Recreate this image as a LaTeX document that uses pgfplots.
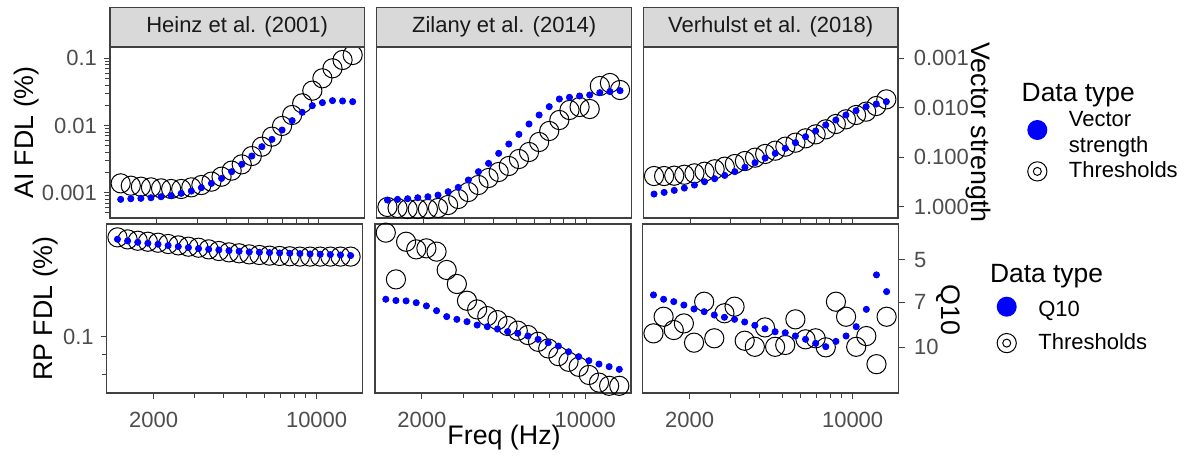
\documentclass[border=0pt]{standalone}
\usepackage{fontspec}
\setmainfont{Liberation Sans}
\usepackage{pgfplots}
\usepackage{pgfplotstable}
\pgfplotsset{compat=1.18}
\definecolor{vsblue}{RGB}{0,0,255}
\definecolor{bordc}{RGB}{64,64,64}
\definecolor{tickc}{RGB}{77,77,77}
\definecolor{stripc}{RGB}{217,217,217}

% f = frequency (Hz), thr = threshold (AI FDL %), vs = vector strength
\pgfplotstableread{
f thr vs
1400 0.001377 0.711
1547.4 0.001271 0.690
1710.3 0.001228 0.679
1890.3 0.00120 0.659
2089.2 0.00116 0.629
2309.1 0.001135 0.600
2552.1 0.001135 0.538
2820.7 0.00120 0.483
3117.6 0.00130 0.413
3445.7 0.00146 0.338
3808.3 0.00173 0.268
4209.1 0.00213 0.196
4652.1 0.00264 0.139
5141.7 0.00351 0.0946
5682.8 0.00484 0.0612
6280.9 0.00682 0.0435
6942.0 0.00984 0.0282
7672.6 0.01433 0.0182
8480.1 0.0214 0.01236
9372.6 0.0330 0.00907
10359.0 0.0504 0.00788
11449.2 0.0710 0.00718
12654.2 0.0944 0.00730
13986.0 0.112 0.00753
}\heinzTop
\pgfplotstableread{
f thr vs
1400 0.000613 0.734
1547.4 0.000592 0.711
1710.3 0.000572 0.690
1890.3 0.000572 0.659
2089.2 0.000572 0.629
2309.1 0.000592 0.582
2552.1 0.000656 0.498
2820.7 0.000806 0.407
3117.6 0.001024 0.289
3445.7 0.001302 0.196
3808.3 0.001655 0.133
4209.1 0.002032 0.0835
4652.1 0.002496 0.0541
5141.7 0.003171 0.0345
5682.8 0.004032 0.0213
6280.9 0.005683 0.0140
6942.0 0.008285 0.00950
7672.6 0.01207 0.00665
8480.1 0.01701 0.00615
9372.6 0.01885 0.00578
10359.0 0.01759 0.00552
11449.2 0.03871 0.00495
12654.2 0.04289 0.00472
13986.0 0.03374 0.00451
}\zilanyTop
\pgfplotstableread{
f thr vs
1400 0.00177 0.555
1547.4 0.00177 0.514
1710.3 0.00179 0.468
1890.3 0.00185 0.420
2089.2 0.00194 0.365
2309.1 0.00205 0.313
2552.1 0.00223 0.272
2820.7 0.00244 0.233
3117.6 0.00267 0.196
3445.7 0.00296 0.160
3808.3 0.00332 0.129
4209.1 0.00377 0.104
4652.1 0.00422 0.0835
5141.7 0.00484 0.0662
5682.8 0.00555 0.0508
6280.9 0.00644 0.0385
6942.0 0.00738 0.0295
7672.6 0.00877 0.0223
8480.1 0.01053 0.0177
9372.6 0.01236 0.0140
10359.0 0.01433 0.01145
11449.2 0.01607 0.00950
12654.2 0.0195 0.00839
13986.0 0.0245 0.00753
}\verhulstTop
% f = frequency (Hz), thr = threshold (RP FDL %), q = Q10
\pgfplotstableread{
f thr q
1400 0.1787 4.244
1547.4 0.1766 4.30
1710.3 0.1752 4.346
1890.3 0.1742 4.38
2089.2 0.1732 4.414
2309.1 0.1719 4.46
2552.1 0.1705 4.497
2820.7 0.1692 4.532
3117.6 0.1682 4.57
3445.7 0.1666 4.594
3808.3 0.1650 4.619
4209.1 0.1637 4.643
4652.1 0.1628 4.668
5141.7 0.1618 4.693
5682.8 0.1612 4.705
6280.9 0.1606 4.718
6942.0 0.1603 4.730
7672.6 0.1600 4.743
8480.1 0.1597 4.755
9372.6 0.1597 4.768
10359.0 0.1597 4.78
11449.2 0.1597 4.793
12654.2 0.1597 4.806
13986.0 0.1597 4.83
}\heinzBot
\pgfplotstableread{
f thr q
1400 0.1837 6.83
1547.4 0.1398 6.90
1710.3 0.1742 6.92
1890.3 0.1666 7.02
2089.2 0.1676 7.20
2309.1 0.1644 7.48
2552.1 0.1477 7.84
2820.7 0.1361 8.01
3117.6 0.1234 8.16
3445.7 0.1173 8.38
3808.3 0.1128 8.49
4209.1 0.1102 8.65
4652.1 0.1065 8.83
5141.7 0.1036 8.95
5682.8 0.1010 9.14
6280.9 0.0971 9.39
6942.0 0.0934 9.64
7672.6 0.0893 9.90
8480.1 0.0864 10.36
9372.6 0.0839 10.77
10359.0 0.0800 11.12
11449.2 0.0765 11.42
12654.2 0.0751 11.66
13986.0 0.0751 11.91
}\zilanyBot
\pgfplotstableread{
f thr q
1400 0.1020 6.60
1547.4 0.1124 6.83
1710.3 0.1040 6.96
1890.3 0.1081 7.15
2089.2 0.0966 7.38
2309.1 0.1227 7.54
2552.1 0.0991 7.74
2820.7 0.1147 7.88
3117.6 0.1192 8.01
3445.7 0.0977 8.18
3808.3 0.0943 8.40
4209.1 0.1056 8.63
4652.1 0.0943 8.84
5141.7 0.0953 8.91
5682.8 0.1107 9.14
6280.9 0.0985 9.38
6942.0 0.0991 9.69
7672.6 0.0940 9.95
8480.1 0.1227 9.54
9372.6 0.1124 9.14
10359.0 0.0943 8.49
11449.2 0.1004 7.40
12654.2 0.0852 5.63
13986.0 0.1124 6.43
}\verhulstBot

\begin{document}
\begin{tikzpicture}
\useasboundingbox (0,0) rectangle (598.5pt,227.5pt);

% ---------------- top row ----------------
\begin{axis}[scale only axis, xmode=log, ymode=log, xmin=1259, xmax=15700,
  ymin=4.2e-4, ymax=0.1473, width=127.15pt, height=85.5pt, axis on top,
  axis line style={bordc, line width=0.7pt},
  tick align=outside, major tick length=3pt, minor tick length=2.6pt,
  tick style={bordc, line width=0.5pt},
  xtick={2000,10000}, minor xtick={3000,4000,5000,6000,7000,8000,9000}, xticklabels={},
  xtick pos=bottom, ytick pos=left,
  tick label style={font=\fontsize{11}{13}\selectfont, text=tickc},
  ytick={0.001,0.01,0.1}, yticklabels={0.001,0.01,0.1},
  minor ytick={0.0005,0.0006,0.0007,0.0008,0.0009,0.002,0.003,0.004,0.005,0.006,0.007,0.008,0.009,0.02,0.03,0.04,0.05,0.06,0.07,0.08,0.09},
  title={Heinz et al. (2001)},
  title style={at={(axis description cs:0.5,1)}, anchor=south, yshift=-6pt,
    fill=stripc, draw=bordc, line width=0.7pt, minimum width=127.15pt, minimum height=19.85pt,
    inner sep=0pt, outer sep=0pt, font=\fontsize{11}{13}\selectfont, text=black!90},
  ylabel={AI FDL (\%)},
  ylabel style={at={(axis description cs:-0.33,0.5)}, anchor=center, font=\fontsize{13.4}{15}\selectfont},
  at={(55pt,118.5pt)}, anchor=south west]
\addplot[only marks, black, mark=o, mark size=4.8pt, mark options={line width=0.5pt}] table[x=f, y=thr] {\heinzTop};
\end{axis}
\begin{axis}[scale only axis, xmode=log, ymode=log, xmin=1259, xmax=15700,
  ymin=5.91e-4, ymax=1.692, y dir=reverse, width=127.15pt, height=85.5pt, hide axis,
  at={(55pt,118.5pt)}, anchor=south west]
\addplot[color=vsblue, only marks, mark=*, mark size=1.55pt] table[x=f, y=vs] {\heinzTop};
\end{axis}

\begin{axis}[scale only axis, xmode=log, ymode=log, xmin=1259, xmax=15700,
  ymin=4.2e-4, ymax=0.1473, width=127.5pt, height=85.5pt, axis on top,
  axis line style={bordc, line width=0.7pt},
  tick align=outside, major tick length=3pt, minor tick length=2.6pt,
  tick style={bordc, line width=0.5pt},
  xtick={2000,10000}, minor xtick={3000,4000,5000,6000,7000,8000,9000}, xticklabels={},
  xtick pos=bottom, ymajorticks=false, yminorticks=false,
  title={Zilany et al. (2014)},
  title style={at={(axis description cs:0.5,1)}, anchor=south, yshift=-6pt,
    fill=stripc, draw=bordc, line width=0.7pt, minimum width=127.5pt, minimum height=19.85pt,
    inner sep=0pt, outer sep=0pt, font=\fontsize{11}{13}\selectfont, text=black!90},
  at={(188.35pt,118.5pt)}, anchor=south west]
\addplot[only marks, black, mark=o, mark size=4.8pt, mark options={line width=0.5pt}] table[x=f, y=thr] {\zilanyTop};
\end{axis}
\begin{axis}[scale only axis, xmode=log, ymode=log, xmin=1259, xmax=15700,
  ymin=5.91e-4, ymax=1.692, y dir=reverse, width=127.5pt, height=85.5pt, hide axis,
  at={(188.35pt,118.5pt)}, anchor=south west]
\addplot[color=vsblue, only marks, mark=*, mark size=1.55pt] table[x=f, y=vs] {\zilanyTop};
\end{axis}

\begin{axis}[scale only axis, xmode=log, ymode=log, xmin=1259, xmax=15700,
  ymin=4.2e-4, ymax=0.1473, width=127.35pt, height=85.5pt, axis on top,
  axis line style={bordc, line width=0.7pt},
  tick align=outside, major tick length=3pt, minor tick length=2.6pt,
  tick style={bordc, line width=0.5pt},
  xtick={2000,10000}, minor xtick={3000,4000,5000,6000,7000,8000,9000}, xticklabels={},
  xtick pos=bottom, ymajorticks=false, yminorticks=false,
  title={Verhulst et al. (2018)},
  title style={at={(axis description cs:0.5,1)}, anchor=south, yshift=-6pt,
    fill=stripc, draw=bordc, line width=0.7pt, minimum width=127.35pt, minimum height=19.85pt,
    inner sep=0pt, outer sep=0pt, font=\fontsize{11}{13}\selectfont, text=black!90},
  at={(321.65pt,118.5pt)}, anchor=south west]
\addplot[only marks, black, mark=o, mark size=4.8pt, mark options={line width=0.5pt}] table[x=f, y=thr] {\verhulstTop};
\end{axis}
\begin{axis}[scale only axis, xmode=log, ymode=log, xmin=1259, xmax=15700,
  ymin=5.91e-4, ymax=1.692, y dir=reverse, width=127.35pt, height=85.5pt,
  axis x line=none, axis y line*=right, axis line style={bordc, line width=0.7pt},
  tick align=outside, major tick length=3.2pt, tick style={bordc, line width=0.5pt},
  yminorticks=false,
  tick label style={font=\fontsize{11}{13}\selectfont, text=tickc},
  yticklabel style={xshift=1.2pt},
  ytick={0.001,0.01,0.1,1}, yticklabels={0.001,0.010,0.100,1.000},
  ylabel={Vector strength},
  ylabel style={at={(axis description cs:1.314,0.5)}, anchor=center, rotate=180,
    font=\fontsize{13.4}{15}\selectfont},
  legend cell align=left,
  legend style={at={(axis description cs:1.5077,0.7889)}, anchor=north west,
    draw=none, fill=none, inner sep=0pt, outer sep=0pt, row sep=1.3pt, column sep=10.8pt,
    font=\fontsize{11}{13}\selectfont,
    nodes={inner sep=0pt, text height=9pt, text depth=2.5pt}},
  at={(321.65pt,118.5pt)}, anchor=south west]
\addlegendimage{empty legend}
\addlegendentry{\hspace*{-23.6pt}\fontsize{13.2}{14}\selectfont Data type}
\addlegendimage{legend image code/.code={\path[draw=none] (-5pt,0pt) -- (5pt,0pt); \fill[vsblue,draw=none,overlay] (0pt,-4.9pt) circle (5pt);}}
\addlegendentry{Vector}
\addlegendimage{empty legend}
\addlegendentry{strength}
\addlegendimage{legend image code/.code={\path[draw=none] (-5pt,0pt) -- (5pt,0pt); \draw[black,fill=none,line width=0.5pt,overlay] (0pt,0pt) circle (4.8pt); \draw[black,fill=none,line width=0.5pt,overlay] (0pt,0pt) circle (2pt);}}
\addlegendentry{Thresholds}
\addplot[color=vsblue, only marks, mark=*, mark size=1.55pt, forget plot] table[x=f, y=vs] {\verhulstTop};
\end{axis}

% ---------------- bottom row ----------------
\begin{axis}[scale only axis, xmode=log, ymode=log, xmin=1259, xmax=15700,
  ymin=0.0720, ymax=0.1932, width=127.8pt, height=84.5pt, axis on top,
  axis line style={bordc, line width=0.7pt},
  tick align=outside, major tick length=3pt, minor tick length=2.6pt,
  tick style={bordc, line width=0.5pt},
  xtick={2000,10000}, minor xtick={3000,4000,5000,6000,7000,8000,9000}, xticklabels={2000,10000},
  xtick pos=bottom, ytick pos=left,
  tick label style={font=\fontsize{11}{13}\selectfont, text=tickc},
  xticklabel style={yshift=-3.2pt},
  ytick={0.1}, yticklabels={0.1}, minor ytick={0.08,0.09},
  ylabel={RP FDL (\%)},
  ylabel style={at={(axis description cs:-0.2375,0.5)}, anchor=center, font=\fontsize{13.4}{15}\selectfont},
  at={(53.35pt,31pt)}, anchor=south west]
\addplot[only marks, black, mark=o, mark size=4.8pt, mark options={line width=0.5pt}] table[x=f, y=thr] {\heinzBot};
\end{axis}
\begin{axis}[scale only axis, xmode=log, ymode=log, xmin=1259, xmax=15700,
  ymin=3.76, ymax=14.37, y dir=reverse, width=127.8pt, height=84.5pt, hide axis,
  at={(53.35pt,31pt)}, anchor=south west]
\addplot[color=vsblue, only marks, mark=*, mark size=1.55pt] table[x=f, y=q] {\heinzBot};
\end{axis}

\begin{axis}[scale only axis, xmode=log, ymode=log, xmin=1259, xmax=15700,
  ymin=0.0720, ymax=0.1932, width=128pt, height=84.5pt, axis on top,
  axis line style={bordc, line width=0.7pt},
  tick align=outside, major tick length=3pt, minor tick length=2.6pt,
  tick style={bordc, line width=0.5pt},
  xtick={2000,10000}, minor xtick={3000,4000,5000,6000,7000,8000,9000}, xticklabels={2000,10000},
  xtick pos=bottom, ymajorticks=false, yminorticks=false,
  tick label style={font=\fontsize{11}{13}\selectfont, text=tickc},
  xticklabel style={yshift=-3.2pt},
  xlabel={Freq (Hz)},
  xlabel style={at={(axis description cs:0.504,-0.265)}, anchor=center, font=\fontsize{13.4}{15}\selectfont},
  at={(187.5pt,31pt)}, anchor=south west]
\addplot[only marks, black, mark=o, mark size=4.8pt, mark options={line width=0.5pt}] table[x=f, y=thr] {\zilanyBot};
\end{axis}
\begin{axis}[scale only axis, xmode=log, ymode=log, xmin=1259, xmax=15700,
  ymin=3.76, ymax=14.37, y dir=reverse, width=128pt, height=84.5pt, hide axis,
  at={(187.5pt,31pt)}, anchor=south west]
\addplot[color=vsblue, only marks, mark=*, mark size=1.55pt] table[x=f, y=q] {\zilanyBot};
\end{axis}

\begin{axis}[scale only axis, xmode=log, ymode=log, xmin=1259, xmax=15700,
  ymin=0.0720, ymax=0.1932, width=127.8pt, height=84.5pt, axis on top,
  axis line style={bordc, line width=0.7pt},
  tick align=outside, major tick length=3pt, minor tick length=2.6pt,
  tick style={bordc, line width=0.5pt},
  xtick={2000,10000}, minor xtick={3000,4000,5000,6000,7000,8000,9000}, xticklabels={2000,10000},
  xtick pos=bottom, ymajorticks=false, yminorticks=false,
  tick label style={font=\fontsize{11}{13}\selectfont, text=tickc},
  xticklabel style={yshift=-3.2pt},
  at={(321.35pt,31pt)}, anchor=south west]
\addplot[only marks, black, mark=o, mark size=4.8pt, mark options={line width=0.5pt}] table[x=f, y=thr] {\verhulstBot};
\end{axis}
\begin{axis}[scale only axis, xmode=log, ymode=log, xmin=1259, xmax=15700,
  ymin=3.76, ymax=14.37, y dir=reverse, width=127.8pt, height=84.5pt,
  axis x line=none, axis y line*=right, axis line style={bordc, line width=0.7pt},
  tick align=outside, major tick length=3.2pt, tick style={bordc, line width=0.5pt},
  yminorticks=false,
  tick label style={font=\fontsize{11}{13}\selectfont, text=tickc},
  yticklabel style={xshift=1.2pt},
  ytick={5,7,10}, yticklabels={5,7,10},
  ylabel={Q10},
  ylabel style={at={(axis description cs:1.1944,0.491)}, anchor=center, rotate=180,
    font=\fontsize{13.4}{15}\selectfont},
  legend cell align=left,
  legend style={at={(axis description cs:1.385,0.7586)}, anchor=north west,
    draw=none, fill=none, inner sep=0pt, outer sep=0pt, row sep=5.2pt, column sep=10.8pt,
    font=\fontsize{11}{13}\selectfont,
    nodes={inner sep=0pt, text height=9pt, text depth=2.5pt}},
  at={(321.35pt,31pt)}, anchor=south west]
\addlegendimage{empty legend}
\addlegendentry{\hspace*{-24.15pt}\fontsize{13.2}{14}\selectfont Data type}
\addlegendimage{legend image code/.code={\path[draw=none] (-5pt,0pt) -- (5pt,0pt); \fill[vsblue,draw=none,overlay] (0pt,1.5pt) circle (5pt);}}
\addlegendentry{Q10}
\addlegendimage{legend image code/.code={\path[draw=none] (-5pt,0pt) -- (5pt,0pt); \draw[black,fill=none,line width=0.5pt,overlay] (0pt,0pt) circle (4.8pt); \draw[black,fill=none,line width=0.5pt,overlay] (0pt,0pt) circle (2pt);}}
\addlegendentry{Thresholds}
\addplot[color=vsblue, only marks, mark=*, mark size=1.55pt, forget plot] table[x=f, y=q] {\verhulstBot};
\end{axis}
\end{tikzpicture}
\end{document}
